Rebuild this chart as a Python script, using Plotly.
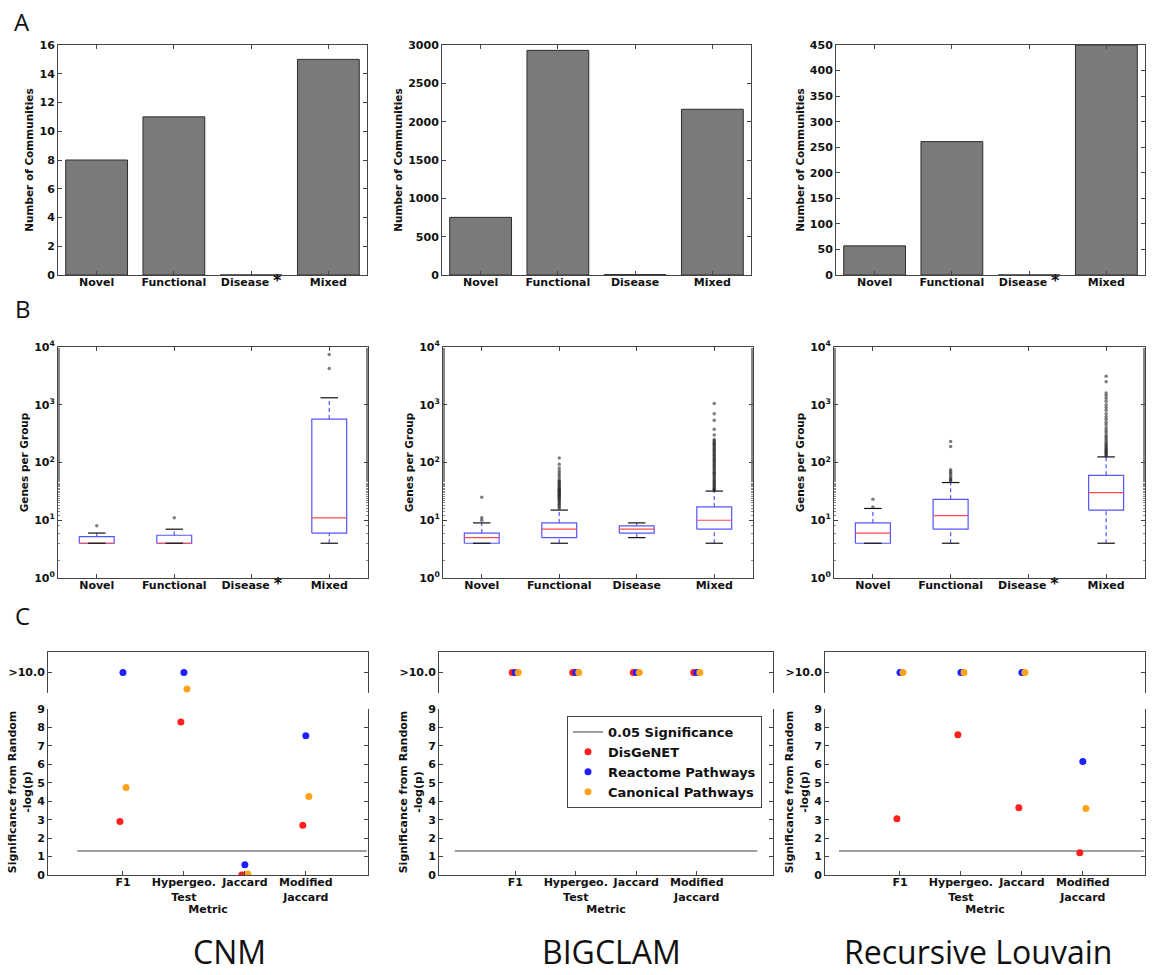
import plotly.graph_objects as go

W, H = 1157, 975

# ---------------- data ----------------
algorithm_names = ["CNM", "BIGCLAM", "Recursive Louvain"]
group_labels = ["Novel", "Functional", "Disease", "Mixed"]
disease_starred = [True, False, True]

# Panel A: number of communities per group
cnm_counts = [8, 11, 0, 15]
bigclam_counts = [752, 2930, 5, 2162]
louvain_counts = [57, 261, 0, 450]
count_axis_max = [16, 3000, 450]
count_axis_step = [2, 500, 50]

# Panel B: genes per group (box statistics)
cnm_q1 = [4, 4, None, 6]
cnm_median = [4, 4, None, 11]
cnm_q3 = [5.2, 5.5, None, 565]
cnm_whisker_low = [4, 4, None, 4]
cnm_whisker_high = [6, 7, None, 1320]
cnm_fliers = [[8], [11], [], [4240, 7400]]

bigclam_q1 = [4, 5, 6, 7]
bigclam_median = [5, 7, 7, 10]
bigclam_q3 = [6, 9, 8, 17]
bigclam_whisker_low = [4, 4, 5, 4]
bigclam_whisker_high = [9, 15, 9, 32]
bigclam_fliers = [
    [10, 11, 25],
    [16, 17, 18, 19, 20, 21, 22, 23, 24, 25, 26, 27, 28, 29, 30, 31, 32, 33,
     34, 35, 36, 38, 40, 42, 44, 46, 48, 50, 55, 60, 66, 72, 80, 93, 120],
    [],
    [33, 34, 35, 36, 38, 40, 42, 44, 46, 48, 50, 53, 56, 59, 62, 65, 68, 72,
     76, 80, 84, 88, 93, 98, 103, 108, 114, 120, 126, 132, 139, 146, 153, 161,
     169, 178, 187, 196, 206, 216, 227, 238, 250, 300, 375, 540, 700, 1050],
]

louvain_q1 = [4, 7, None, 15]
louvain_median = [6, 12, None, 30]
louvain_q3 = [9, 23, None, 60]
louvain_whisker_low = [4, 4, None, 4]
louvain_whisker_high = [16, 45, None, 125]
louvain_fliers = [
    [17, 23],
    [48, 50, 52, 55, 60, 65, 70, 75, 190, 230],
    [],
    [130, 135, 140, 146, 152, 158, 165, 172, 180, 190, 200, 210, 225, 240,
     260, 280, 300, 330, 360, 400, 450, 500, 560, 620, 700, 800, 900, 1000,
     1150, 1300, 1450, 1600, 2500, 3100],
]

# Panel C: significance from random, -log(p); 10.0 means ">10.0"
metric_labels = ["F1", "Hypergeo.<br>Test", "Jaccard", "Modified<br>Jaccard"]
series_names = ["DisGeNET", "Reactome Pathways", "Canonical Pathways"]
cnm_disgenet = [2.9, 8.3, 0.0, 2.7]
cnm_reactome = [10.0, 10.0, 0.55, 7.55]
cnm_canonical = [4.75, 9.6, 0.05, 4.25]
bigclam_disgenet = [10.0, 10.0, 10.0, 10.0]
bigclam_reactome = [10.0, 10.0, 10.0, 10.0]
bigclam_canonical = [10.0, 10.0, 10.0, 10.0]
louvain_disgenet = [3.05, 7.6, 3.65, 1.2]
louvain_reactome = [10.0, 10.0, 10.0, 6.15]
louvain_canonical = [10.0, 10.0, 10.0, 3.6]
significance_level = 1.30103  # -log10(0.05)
significance_x_extent = [[-0.75, 4.0], [-1.0, 4.0], [-1.0, 4.0]]

# ---------------- styling ----------------
counts_all = [cnm_counts, bigclam_counts, louvain_counts]
box_all = [
    (cnm_q1, cnm_median, cnm_q3, cnm_whisker_low, cnm_whisker_high, cnm_fliers),
    (bigclam_q1, bigclam_median, bigclam_q3, bigclam_whisker_low, bigclam_whisker_high, bigclam_fliers),
    (louvain_q1, louvain_median, louvain_q3, louvain_whisker_low, louvain_whisker_high, louvain_fliers),
]
sig_all = [
    [cnm_disgenet, cnm_reactome, cnm_canonical],
    [bigclam_disgenet, bigclam_reactome, bigclam_canonical],
    [louvain_disgenet, louvain_reactome, louvain_canonical],
]
series_colors = ["#ff1f1f", "#1f1fff", "#ffa41a"]
series_offsets = [-0.05, 0.0, 0.05]

FONT = "DejaVu Sans"
TICKFONT = dict(family=FONT, size=11, color="#111111", weight="bold")
TITLEFONT = dict(family=FONT, size=10.5, color="#111111", weight="bold")
LINEC = "#444444"


def dom_x(a, b):
    return [a / W, b / W]


def dom_y(top, bottom):
    return [1 - bottom / H, 1 - top / H]


def base_axis(**kw):
    d = dict(showline=True, linecolor=LINEC, linewidth=1, ticks="inside",
             ticklen=4, tickwidth=1, tickcolor=LINEC, showgrid=False,
             zeroline=False, tickfont=TICKFONT)
    d.update(kw)
    return d


def aid(n, letter):
    return letter if n == 1 else f"{letter}{n}"


def lid(n, letter):
    return f"{letter}axis" if n == 1 else f"{letter}axis{n}"


def cat_text(k):
    out = []
    for g in group_labels:
        if g == "Disease" and disease_starred[k]:
            out.append("Disease <span style='font-size:16px'>*</span>")
        else:
            out.append(g)
    return out


A_x = [(58, 367), (442, 751), (836, 1145)]
A_y = (45, 275)
B_x = [(58, 368), (443, 753), (834, 1145)]
B_y = (347, 578)
C_x = [(48, 368), (439, 773), (825, 1145)]
C_top = (652, 693)
C_bot = (709, 875)
C_xrange = [[-1.23, 4.02], [-1.26, 4.26], [-1.23, 4.02]]

fig = go.Figure()
layout = dict(width=W, height=H, margin=dict(l=0, r=0, t=0, b=0, autoexpand=False),
              paper_bgcolor="white", plot_bgcolor="white", showlegend=True)

positions = list(range(len(group_labels)))

# ---------- Row A ----------
for k in range(3):
    n = k + 1
    layout[lid(n, "x")] = base_axis(domain=dom_x(*A_x[k]), anchor=aid(n, "y"),
                                    range=[-0.5, 3.5], tickvals=positions,
                                    ticktext=cat_text(k), mirror="allticks",
                                    ticklabelstandoff=-3)
    layout[lid(n, "y")] = base_axis(domain=dom_y(*A_y), anchor=aid(n, "x"),
                                    range=[0, count_axis_max[k]], dtick=count_axis_step[k],
                                    mirror="allticks",
                                    title=dict(text="Number of Communities", font=TITLEFONT, standoff=3))
    fig.add_trace(go.Bar(x=positions, y=counts_all[k], width=0.8,
                         marker=dict(color="#7a7a7a", line=dict(color="#2e2e2e", width=1)),
                         xaxis=aid(n, "x"), yaxis=aid(n, "y"), showlegend=False))

# ---------- Row B ----------
BOX_HALF = 0.225
CAP_HALF = 0.1125
for k in range(3):
    n = 4 + k
    q1, med, q3, wlo, whi, fl = box_all[k]
    layout[lid(n, "x")] = base_axis(domain=dom_x(*B_x[k]), anchor=aid(n, "y"),
                                    range=[-0.5, 3.5], tickvals=positions,
                                    ticktext=cat_text(k), mirror="allticks",
                                    ticklabelstandoff=-3)
    layout[lid(n, "y")] = base_axis(domain=dom_y(*B_y), anchor=aid(n, "x"),
                                    type="log", range=[0, 4],
                                    tickvals=[1, 10, 100, 1000, 10000],
                                    ticktext=["10<sup>0</sup>", "10<sup>1</sup>", "10<sup>2</sup>",
                                              "10<sup>3</sup>", "10<sup>4</sup>"],
                                    mirror="allticks",
                                    minor=dict(ticks="inside", ticklen=2, tickcolor="#888888"),
                                    title=dict(text="Genes per Group", font=TITLEFONT, standoff=3))
    bx, by, mx, my, wx, wy, cx, cy, fx, fy = [], [], [], [], [], [], [], [], [], []
    for i in positions:
        if q1[i] is None:
            continue
        bx += [i - BOX_HALF, i + BOX_HALF, i + BOX_HALF, i - BOX_HALF, i - BOX_HALF, None]
        by += [q1[i], q1[i], q3[i], q3[i], q1[i], None]
        mx += [i - BOX_HALF, i + BOX_HALF, None]
        my += [med[i], med[i], None]
        wx += [i, i, None, i, i, None]
        wy += [q3[i], whi[i], None, wlo[i], q1[i], None]
        cx += [i - CAP_HALF, i + CAP_HALF, None, i - CAP_HALF, i + CAP_HALF, None]
        cy += [whi[i], whi[i], None, wlo[i], wlo[i], None]
        fx += [i] * len(fl[i])
        fy += fl[i]
    common = dict(xaxis=aid(n, "x"), yaxis=aid(n, "y"), showlegend=False, hoverinfo="skip")
    fig.add_trace(go.Scatter(x=wx, y=wy, mode="lines", line=dict(color="#5555ff", width=1.2, dash="4px,3px"), **common))
    fig.add_trace(go.Scatter(x=bx, y=by, mode="lines", line=dict(color="#5555ff", width=1.2), **common))
    fig.add_trace(go.Scatter(x=mx, y=my, mode="lines", line=dict(color="#ff4a4a", width=1.2), **common))
    fig.add_trace(go.Scatter(x=cx, y=cy, mode="lines", line=dict(color="#111111", width=1.2), **common))
    fig.add_trace(go.Scatter(x=fx, y=fy, mode="markers",
                             marker=dict(color="rgba(40,40,40,0.6)", size=3.5), **common))

# ---------- Row C ----------
for k in range(3):
    nt = 7 + k
    nb = 10 + k
    layout[lid(nt, "x")] = dict(domain=dom_x(*C_x[k]), anchor=aid(nt, "y"), range=C_xrange[k],
                                side="top", showline=True, linecolor=LINEC, linewidth=1,
                                mirror=False, ticks="", showticklabels=False,
                                showgrid=False, zeroline=False)
    layout[lid(nt, "y")] = base_axis(domain=dom_y(*C_top), anchor=aid(nt, "x"),
                                     range=[9.5, 10.5], tickvals=[10], ticktext=[">10.0"],
                                     mirror="allticks")
    layout[lid(nb, "x")] = base_axis(domain=dom_x(*C_x[k]), anchor=aid(nb, "y"), range=C_xrange[k],
                                     tickvals=positions, ticktext=metric_labels, mirror=False,
                                     ticklabelstandoff=-3,
                                     title=dict(text="Metric", font=dict(family=FONT, size=11,
                                                                           color="#111111", weight="bold"),
                                                standoff=0))
    layout[lid(nb, "y")] = base_axis(domain=dom_y(*C_bot), anchor=aid(nb, "x"),
                                     range=[0, 9], dtick=1, mirror="allticks",
                                     title=dict(text="Significance from Random<br>-log(p)",
                                                font=dict(family=FONT, size=11, color="#111111",
                                                          weight="bold"), standoff=3))
    # significance line
    fig.add_trace(go.Scatter(x=significance_x_extent[k], y=[significance_level] * 2, mode="lines",
                             line=dict(color="#808080", width=1.5), name="0.05 Significance",
                             legendrank=1, showlegend=(k == 1),
                             xaxis=aid(nb, "x"), yaxis=aid(nb, "y"), hoverinfo="skip"))
    for s in range(3):
        xs = [p + series_offsets[s] for p in positions]
        for n, show in ((nt, False), (nb, k == 1)):
            fig.add_trace(go.Scatter(x=xs, y=sig_all[k][s], mode="markers", name=series_names[s],
                                     marker=dict(color=series_colors[s], size=7),
                                     legendrank=2 + s, showlegend=show, cliponaxis=True,
                                     xaxis=aid(n, "x"), yaxis=aid(n, "y")))

layout["legend"] = dict(x=567 / W, y=1 - 716 / H, xanchor="left", yanchor="top",
                        bgcolor="white", bordercolor=LINEC, borderwidth=1,
                        font=dict(family=FONT, size=13, color="#111111", weight="bold"),
                        tracegroupgap=0, itemwidth=30)

annotations = []
for letter, (xp, yp) in zip(["A", "B", "C"], [(12, 3), (13, 290), (13, 597)]):
    annotations.append(dict(text=letter, x=xp / W, y=1 - yp / H, xref="paper", yref="paper",
                            xanchor="left", yanchor="top", showarrow=False,
                            font=dict(family="Open Sans", size=24, color="#111111")))
for name, xc in zip(algorithm_names, [229, 611, 978]):
    annotations.append(dict(text=name, x=xc / W, y=0, xref="paper", yref="paper",
                            xanchor="center", yanchor="bottom", showarrow=False,
                            font=dict(family="Open Sans", size=32, color="#111111")))
layout["annotations"] = annotations

fig.update_layout(**layout)
fig.write_html("out.html", config={"displayModeBar": False},
               post_script="document.body.style.margin='0px';document.body.style.overflow='hidden';")
